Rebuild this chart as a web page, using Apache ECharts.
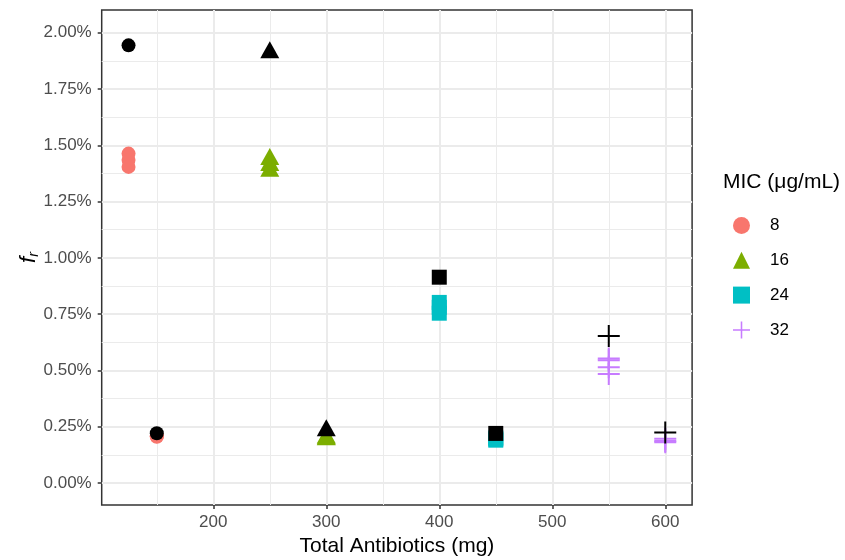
<!DOCTYPE html>
<html>
<head>
<meta charset="utf-8">
<script src="https://cdn.jsdelivr.net/npm/echarts@6/dist/echarts.min.js"></script>
<style>
html, body { margin: 0; padding: 0; background: #fff; }
#chart { width: 845px; height: 560px; }
</style>
</head>
<body>
<div id="chart"></div>
<script>
const micLevels = ['8', '16', '24', '32'];
const micColors = ['#F8766D', '#7CAE00', '#00BFC4', '#C77CFF'];

// replicates: total antibiotics (mg) and f_r (%)
const mic8Dose = [125, 125, 125, 150, 150, 150];
const mic8Fr = [1.463, 1.435, 1.404, 0.21, 0.207, 0.205];
const mic16Dose = [250, 250, 250, 300, 300, 300];
const mic16Fr = [1.437, 1.41, 1.385, 0.2, 0.195, 0.192];
const mic24Dose = [400, 400, 400, 450, 450, 450];
const mic24Fr = [0.802, 0.78, 0.754, 0.2, 0.195, 0.19];
const mic32Dose = [550, 550, 550, 550, 600, 600, 600];
const mic32Fr = [0.553, 0.545, 0.514, 0.484, 0.196, 0.186, 0.181];

// black summary points
const sumDose = [125, 150, 250, 300, 400, 450, 550, 600];
const sumFr = [1.944, 0.221, 1.911, 0.232, 0.914, 0.22, 0.653, 0.224];
const sumMic = ['8', '8', '16', '16', '24', '24', '32', '32'];

const xTicks = [200, 300, 400, 500, 600];
const xMinor = [150, 250, 350, 450, 550];
const yTicks = [0, 0.25, 0.5, 0.75, 1, 1.25, 1.5, 1.75, 2];
const yMinor = [0.125, 0.375, 0.625, 0.875, 1.125, 1.375, 1.625, 1.875];

const FONT = 'Liberation Sans, Arial, Helvetica, sans-serif';
const plusPath = 'path://M10,0h2v10h10v2h-10v10h-2v-10h-10v-2h10z';
const shapes = {
  '8': { symbol: 'circle', size: 14, offset: [0, 0] },
  '16': { symbol: 'triangle', size: [19, 17], offset: [0, -3] },
  '24': { symbol: 'rect', size: 15, offset: [0, 0] },
  '32': { symbol: plusPath, size: 22, offset: [0, 0] }
};
const doses = { '8': mic8Dose, '16': mic16Dose, '24': mic24Dose, '32': mic32Dose };
const frs = { '8': mic8Fr, '16': mic16Fr, '24': mic24Fr, '32': mic32Fr };

const series = [];
micLevels.forEach((m, k) => {
  series.push({
    name: m,
    type: 'scatter',
    symbol: shapes[m].symbol,
    symbolSize: shapes[m].size,
    symbolOffset: shapes[m].offset,
    itemStyle: { color: micColors[k], opacity: 1 },
    z: 2,
    data: doses[m].map((x, i) => [x, frs[m][i]])
  });
});
micLevels.forEach(m => {
  const pts = [];
  sumDose.forEach((x, i) => { if (sumMic[i] === m) pts.push([x, sumFr[i]]); });
  series.push({
    name: 'summary ' + m,
    type: 'scatter',
    symbol: shapes[m].symbol,
    symbolSize: shapes[m].size,
    symbolOffset: shapes[m].offset,
    itemStyle: { color: '#000', opacity: 1 },
    z: 3,
    data: pts
  });
});

const chart = echarts.init(document.getElementById('chart'));
chart.setOption({
  animation: false,
  backgroundColor: '#fff',
  textStyle: { fontFamily: FONT },
  title: {
    text: 'MIC (μg/mL)',
    left: 723,
    top: 172,
    padding: 0,
    textStyle: { fontFamily: FONT, fontSize: 21, fontWeight: 'normal', color: '#000' }
  },
  legend: {
    data: micLevels,
    orient: 'vertical',
    left: 733,
    top: 217,
    padding: 0,
    itemWidth: 17,
    itemHeight: 17,
    itemGap: 17.8,
    textStyle: { fontFamily: FONT, fontSize: 17, color: '#000', padding: [0, 0, 0, 15] }
  },
  grid: {
    left: 101.7,
    right: 152.9,
    top: 10,
    bottom: 55,
    show: true,
    backgroundColor: '#fff',
    borderColor: '#333333',
    borderWidth: 1.5,
    containLabel: false,
    outerBoundsMode: 'none'
  },
  xAxis: [{
    type: 'value',
    min: 101.25,
    max: 623.75,
    position: 'bottom',
    name: 'Total Antibiotics (mg)',
    nameLocation: 'middle',
    nameGap: 31,
    nameMoveOverlap: false,
    nameTextStyle: { fontFamily: FONT, fontSize: 21, color: '#000' },
    axisLine: { show: false, onZero: false },
    axisTick: { show: true, customValues: xTicks, length: 4, lineStyle: { color: '#333333', width: 1.5 } },
    axisLabel: { customValues: xTicks, margin: 9, fontFamily: FONT, fontSize: 17, color: '#4D4D4D' },
    splitLine: { show: true, lineStyle: { color: '#EBEBEB', width: 2 } }
  }, {
    type: 'value',
    min: 101.25,
    max: 623.75,
    position: 'top',
    axisLine: { show: false, onZero: false },
    axisTick: { show: false, customValues: xMinor },
    axisLabel: { show: false, customValues: xMinor },
    splitLine: { show: true, lineStyle: { color: '#EBEBEB', width: 1 } }
  }],
  yAxis: [{
    type: 'value',
    min: -0.098,
    max: 2.101,
    position: 'left',
    name: '{f|f}{r|r}',
    nameLocation: 'middle',
    nameGap: 61,
    nameMoveOverlap: false,
    nameTextStyle: {
      rich: {
        f: { fontFamily: FONT, fontSize: 22, fontStyle: 'italic', color: '#000', lineHeight: 24 },
        r: { fontFamily: FONT, fontSize: 14, fontStyle: 'italic', color: '#000', verticalAlign: 'bottom', lineHeight: 24, padding: [8, 0, 0, 0] }
      }
    },
    axisLine: { show: false, onZero: false },
    axisTick: { show: true, customValues: yTicks, length: 4, lineStyle: { color: '#333333', width: 1.5 } },
    axisLabel: {
      customValues: yTicks,
      margin: 10,
      fontFamily: FONT,
      fontSize: 17,
      color: '#4D4D4D',
      formatter: v => v.toFixed(2) + '%'
    },
    splitLine: { show: true, lineStyle: { color: '#EBEBEB', width: 2 } }
  }, {
    type: 'value',
    min: -0.098,
    max: 2.101,
    position: 'right',
    axisLine: { show: false, onZero: false },
    axisTick: { show: false, customValues: yMinor },
    axisLabel: { show: false, customValues: yMinor },
    splitLine: { show: true, lineStyle: { color: '#EBEBEB', width: 1 } }
  }],
  series: series
});
</script>
</body>
</html>
